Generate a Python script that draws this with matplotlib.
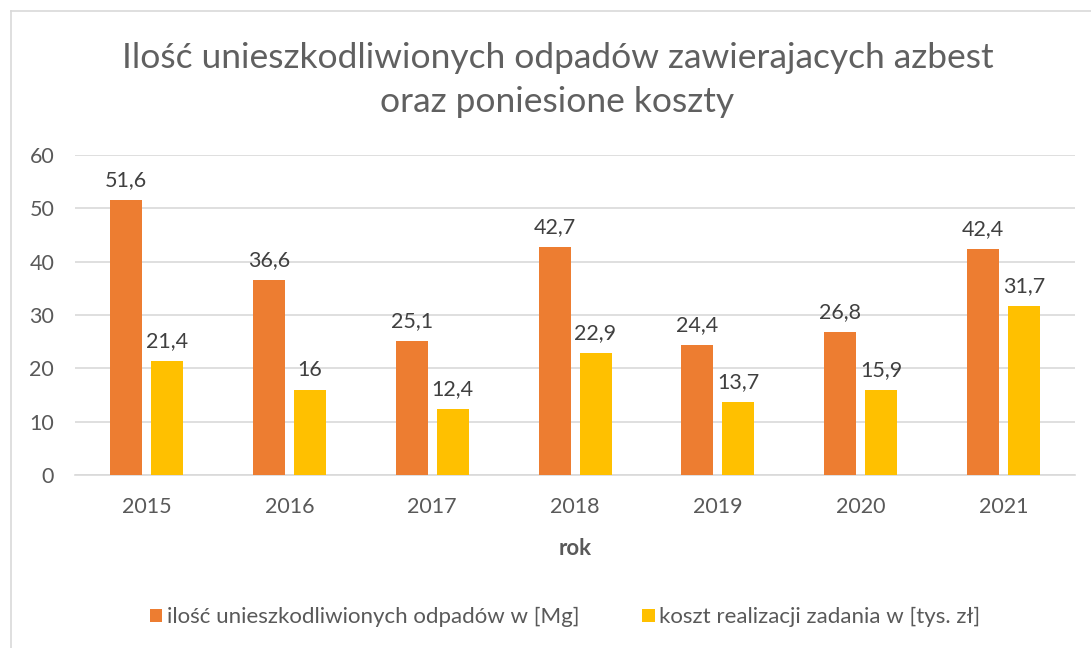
import matplotlib
matplotlib.use("Agg")
import matplotlib.pyplot as plt
from matplotlib.lines import Line2D
import numpy as np

years = ["2015", "2016", "2017", "2018", "2019", "2020", "2021"]
waste_mg = [51.6, 36.6, 25.1, 42.7, 24.4, 26.8, 42.4]
cost_tys = [21.4, 16, 12.4, 22.9, 13.7, 15.9, 31.7]
waste_labels = ["51,6", "36,6", "25,1", "42,7", "24,4", "26,8", "42,4"]
cost_labels = ["21,4", "16", "12,4", "22,9", "13,7", "15,9", "31,7"]
series_names = ["ilość unieszkodliwionych odpadów w [Mg]", "koszt realizacji zadania w [tys. zł]"]
title_text = "Ilość unieszkodliwionych odpadów zawierajacych azbest\noraz poniesione koszty"
x_label = "rok"

plt.rcParams['font.family'] = ['Lato', 'DejaVu Sans']
TXT = "#595959"
ORANGE = "#ED7D31"
YELLOW = "#FFC000"
GRID = "#D9D9D9"

W, H = 1091, 648
fig = plt.figure(figsize=(W / 100, H / 100), dpi=100)
ax = fig.add_axes([75 / W, 1 - 475 / H, 1000 / W, 320 / H])

x = np.arange(len(years))
bw = 0.224
off = 0.1435
b1 = ax.bar(x - off, waste_mg, bw, color=ORANGE, label=series_names[0], zorder=3)
b2 = ax.bar(x + off, cost_tys, bw, color=YELLOW, label=series_names[1], zorder=3)

for rects, labs in ((b1, waste_labels), (b2, cost_labels)):
    for r, lab in zip(rects, labs):
        ax.annotate(lab, (r.get_x() + r.get_width() / 2, r.get_height()),
                    xytext=(0, 7), textcoords="offset points",
                    ha="center", va="bottom", fontsize=15.5, color="#404040")

ax.set_xlim(-0.5, len(years) - 0.5)
ax.set_ylim(0, 60)
ax.set_yticks(range(0, 61, 10))
ax.set_xticks(x)
ax.set_xticklabels(years)
ax.yaxis.grid(True, color=GRID, linewidth=1.2, zorder=0)
ax.set_axisbelow(True)
for s in ax.spines.values():
    s.set_visible(False)
ax.spines['bottom'].set_visible(True)
ax.spines['bottom'].set_color(GRID)
ax.spines['bottom'].set_linewidth(1.2)
ax.tick_params(axis='both', length=0, colors=TXT, labelsize=15.5)
ax.tick_params(axis='y', pad=15)
ax.tick_params(axis='x', pad=16)
ax.set_xlabel(x_label, fontsize=16, fontweight='bold', color=TXT, labelpad=15)

fig.text(0.511, 1 - 80 / H, title_text, ha='center', va='center',
         fontsize=25.5, color="#606060", linespacing=1.45)

leg = fig.legend(handles=[b1, b2], labels=series_names, loc='center',
                 bbox_to_anchor=(0.518, 1 - 617 / H), ncol=2, frameon=False,
                 fontsize=16, handlelength=0.55, handleheight=0.55,
                 handletextpad=0.2, columnspacing=2.85, labelcolor=TXT)

fig.add_artist(Line2D([11 / W, 11 / W], [0, 1 - 11 / H], color=GRID, linewidth=1.2))
fig.add_artist(Line2D([11 / W, 1], [1 - 11 / H, 1 - 11 / H], color=GRID, linewidth=1.2))

fig.savefig("out.png", dpi=100, facecolor="white")
